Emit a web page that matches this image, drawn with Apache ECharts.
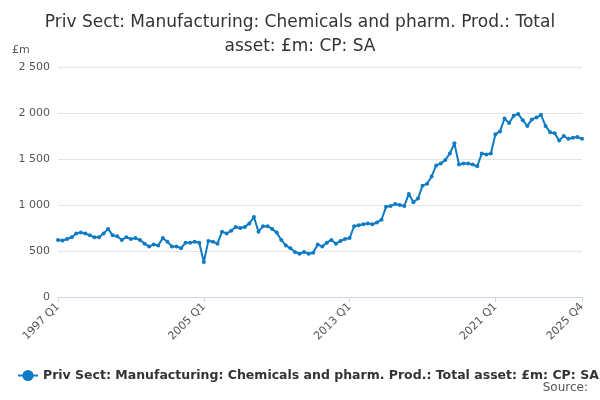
<!DOCTYPE html>
<html><head><meta charset="utf-8">
<script src="https://cdn.jsdelivr.net/npm/echarts@6/dist/echarts.min.js"></script>
<style>html,body{margin:0;padding:0;background:#fff}#c{width:600px;height:400px}</style>
</head><body><div id="c"></div>
<script>
const seriesName = 'Priv Sect: Manufacturing: Chemicals and pharm. Prod.: Total asset: £m: CP: SA';
const categories = [];
for (let y = 1997; y <= 2025; y++) for (let q = 1; q <= 4; q++) categories.push(y + ' Q' + q);
const values = [
620,615,630,650, 690,700,690,670, 650,650,690,740, 670,660,620,650,
630,640,620,580, 550,570,560,640, 600,550,550,530, 590,590,600,590,
380,610,600,580, 710,690,720,760, 750,760,800,870, 710,770,770,740,
700,620,560,530, 490,470,490,470, 480,570,550,590, 620,580,610,630,
640,770,780,790, 800,790,810,840, 980,990,1010,1000, 990,1120,1030,1070,
1210,1230,1310,1430, 1450,1490,1560,1670, 1440,1450,1450,1440, 1420,1560,1550,1560,
1770,1800,1940,1890, 1970,1990,1920,1860, 1930,1950,1980,1860, 1790,1780,1700,1750,
1720,1730,1740,1720
];
const yTicks = [0, 500, 1000, 1500, 2000, 2500];
const shown = i => i % 32 === 0 || i === categories.length - 1;
const chart = echarts.init(document.getElementById('c'));
chart.setOption({
  animation: false,
  title: { text: 'Priv Sect: Manufacturing: Chemicals and pharm. Prod.: Total\nasset: £m: CP: SA', left: 'center', top: 6,
    textStyle: { fontFamily: 'DejaVu Sans', fontSize: 17, fontWeight: 'normal', color: '#333', lineHeight: 24 } },
  graphic: [
    { type: 'text', left: 12, top: 45, style: { text: '£m', font: '11px DejaVu Sans', fill: '#555' } },
    { type: 'text', right: 12, top: 382, style: { text: 'Source:', font: '12px DejaVu Sans', fill: '#555' } }
  ],
  legend: { left: 12, top: 364, itemWidth: 20, itemGap: 5,
    textStyle: { fontFamily: 'DejaVu Sans', fontSize: 12.5, fontWeight: 'bold', color: '#333' } },
  grid: { left: 58, right: 18, top: 67, bottom: 103 },
  xAxis: { type: 'category', data: categories, boundaryGap: false,
    axisLine: { lineStyle: { color: '#ccd6eb' } },
    axisTick: { interval: (i) => shown(i), lineStyle: { color: '#ccd6eb' } },
    axisLabel: { interval: (i) => shown(i), rotate: 45, fontFamily: 'DejaVu Sans', fontSize: 11, color: '#555' } },
  yAxis: { type: 'value', min: 0, max: 2500, interval: 500,
    axisLine: { show: false }, axisTick: { show: false },
    splitLine: { lineStyle: { color: '#e6e6e6' } },
    axisLabel: { fontFamily: 'DejaVu Sans', fontSize: 11, color: '#555', formatter: v => v >= 1000 ? String(v).replace(/(\d)(\d{3})$/, '$1 $2') : v } },
  series: [{ name: seriesName, type: 'line', data: values, color: '#0f7bc4',
    symbol: 'circle', symbolSize: 4, showAllSymbol: true, lineStyle: { width: 2 } }]
});
</script></body></html>
